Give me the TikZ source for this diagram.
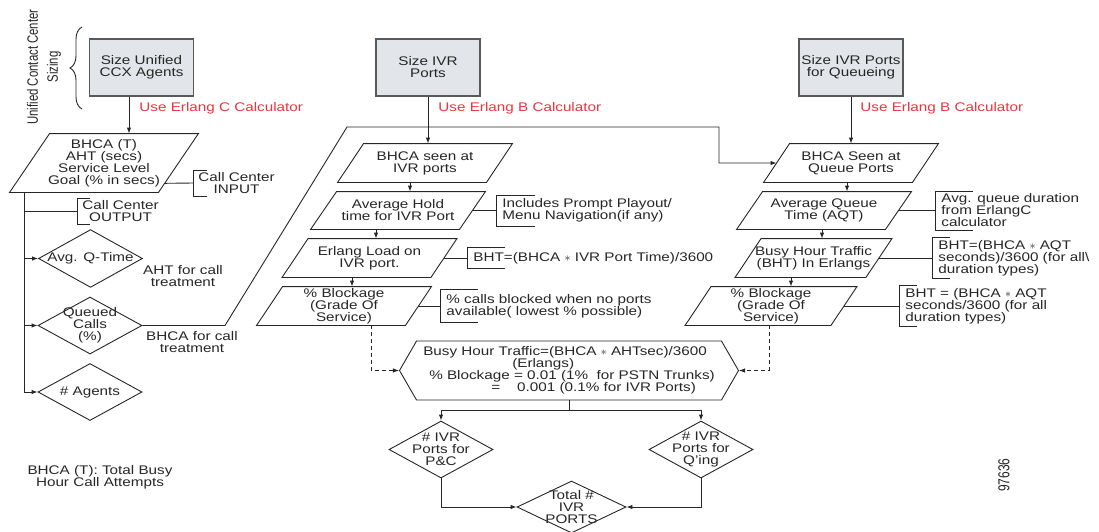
\documentclass[tikz,border=0pt]{standalone}
\usepackage{fontspec}
\setmainfont[FakeStretch=1.22]{Liberation Sans}
\newfontfamily\upfont{Liberation Sans}
\usetikzlibrary{shapes.geometric,shapes.symbols,arrows.meta,positioning,calc,decorations.pathreplacing}
\definecolor{boxgray}{RGB}{226,229,233}
\definecolor{erlred}{RGB}{236,52,60}

\begin{document}
\begin{tikzpicture}[%
	x=1pt, y=-1pt,              % one unit per pixel, y grows downwards
	every node/.style={font=\fontsize{12.5}{12}\selectfont},
	>={Latex[length=6pt,width=4.5pt]},
	line width=0.9pt,
	color=black!85,
	]
	% -------------------------------------------------
	% Box styles
	\tikzset{
		sizebox/.style={draw=black!65, fill=boxgray, line width=1.3pt, minimum width=104pt, minimum height=57pt, inner sep=1pt, align=center},
		para/.style={minimum width=148pt, minimum height=38pt, inner sep=0pt, align=center},
		dec/.style={diamond, draw, minimum width=104pt, minimum height=57pt, inner sep=-10pt, align=center},
		note/.style={anchor=west, inner xsep=6pt, inner ysep=2pt, align=left},
		erl/.style={anchor=west, text=erlred, inner sep=0pt},
		hex/.style={signal, signal to=east and west, signal pointer angle=120, draw, minimum width=339pt, minimum height=59pt, inner sep=1pt, align=left},
		upright/.style={rotate=90, yscale=1.32, align=center},
		dashline/.style={dashed, dash pattern=on 4pt off 3pt},
	}
	\useasboundingbox (0,0) rectangle (1099,531);

	% sizing label
	\node[upright, font=\upfont\fontsize{11.4}{15}\selectfont] (sizing) at (44,67) {Unified Contact Center\\Sizing};
	\draw[decorate, decoration={brace, amplitude=12pt}] (82,109) -- (82,27);

	% start boxes
	\node[sizebox] (sccx) at (141.5,67.5) {Size Unified\\CCX Agents};
	\node[sizebox] (sivr) at (428,67.5) {Size IVR\\Ports};
	\node[sizebox] (sque) at (851,67.5) {Size IVR Ports\\for Queueing};

	\node[erl] (erlc) at (139,108) {Use Erlang C Calculator};
	\node[erl] (erlb) at (438,108) {Use Erlang B Calculator};
	\node[erl] (erlq) at (860,108) {Use Erlang B Calculator};

	% left column
	\node[para, minimum height=58pt] (inp) at (104,163) {BHCA (T)\\AHT (secs)\\Service Level\\Goal (\% in secs)};
	\node[note, align=center, inner xsep=5pt] (ninp) at (193,183) {Call Center\\INPUT};
	\node[note, align=center, inner xsep=5pt] (nout) at (77,211) {Call Center\\OUTPUT};
	\node[dec] (qtime) at (90.5,258.5) {Avg. Q-Time};
	\node[dec] (queued) at (90,325.5) {Queued\\Calls\\(\%)};
	\node[dec] (agents) at (90,392) {\# Agents};
	\node[align=center] (ahtc) at (183,276) {AHT for call\\treatment};
	\node[align=center] (bhcac) at (192,342) {BHCA for call\\treatment};
	\node[align=center] (legend) at (100,477) {BHCA (T): Total Busy\\Hour Call Attempts};

	% IVR port column
	\node[para] (hbhca) at (425,163) {BHCA seen at\\IVR ports};
	\node[para, minimum height=37pt] (hhold) at (398,210.5) {Average Hold\\time for IVR Port};
	\node[para] (hload) at (369.5,258) {Erlang Load on\\IVR port.};
	\node[para] (hblock) at (344,306) {\% Blockage\\(Grade Of\\Service)};
	\node[note, minimum height=30pt] (nhold) at (496,210.5) {Includes Prompt Playout/\\Menu Navigation(if any)};
	\node[note, minimum height=20pt] (nload) at (467,258) {BHT=(BHCA $\ast$ IVR Port Time)/3600};
	\node[note, minimum height=32pt] (nblock) at (440,306) {\% calls blocked when no ports\\available( lowest \% possible)};

	% queueing column
	\node[para] (qbhca) at (851,163) {BHCA Seen at\\Queue Ports};
	\node[para, minimum height=37pt] (qaqt) at (824,210.5) {Average Queue\\Time (AQT)};
	\node[para, minimum width=130pt] (qbht) at (813.5,258) {Busy Hour Traffic\\(BHT) In Erlangs};
	\node[para, minimum width=145pt] (qblock) at (771,306) {\% Blockage\\(Grade Of\\Service)};
	\node[note, minimum height=38pt] (naqt) at (935,210.5) {Avg. queue duration\\from ErlangC\\calculator};
	\node[note, minimum height=38pt] (nbht) at (932,258) {BHT=(BHCA $\ast$ AQT\\seconds)/3600 (for all\textbackslash\\duration types)};
	\node[note, minimum height=39pt] (nqblock) at (899,306) {BHT = (BHCA $\ast$ AQT\\seconds/3600 (for all\\duration types)};

	% totals
	\node[hex] (bht) at (569,370.5) {Busy Hour Traffic=(BHCA $\ast$ AHTsec)/3600\\\hspace*{89pt}(Erlangs)\\\hspace*{6pt}\% Blockage = 0.01 (1\%~ for PSTN Trunks)\\\hspace*{68pt}=\ \ \ \ 0.001 (0.1\% for IVR Ports)};
	\node[dec] (pc) at (441,449.5) {\# IVR\\Ports for\\P\&C};
	\node[dec] (qing) at (701,449.5) {\# IVR\\Ports for\\Q'ing};
	\node[dec, minimum width=109pt, minimum height=52pt] (total) at (571.5,507) {Total \#\\IVR\\PORTS};
	\node[upright, font=\upfont\fontsize{12}{12}\selectfont] (fig) at (1004,475) {97636};

	% slanted outlines of the input/output boxes
	\foreach \n/\s in {inp/20, hbhca/13, hhold/13, hload/13, hblock/13, qbhca/13, qaqt/13, qbht/13, qblock/13}
		\draw ([xshift=\s]\n.north west) -- ([xshift=\s]\n.north east) -- ([xshift=-\s]\n.south east) -- ([xshift=-\s]\n.south west) -- cycle;

	% brackets of the side notes
	\foreach \n/\t in {ninp/14, nout/13, nhold/39, nload/38, nblock/38, naqt/38, nbht/18, nqblock/18}
		\draw ([xshift=\t]\n.north west) -- (\n.north west) -- (\n.south west) -- ([xshift=\t]\n.south west);

	% agent sizing
	\draw[->] ([xshift=-12.5pt]sccx.south) -- ([xshift=-12.5pt]sccx.south |- inp.north);
	\coordinate (spine) at ([xshift=-5pt]inp.south west);
	\draw[->] (spine) |- (agents.west);
	\draw[->] (spine |- qtime.west) -- (qtime.west);
	\draw[->] (spine |- queued.west) -- (queued.west);
	\draw (spine |- nout.west) -- (nout.west);
	\draw (ninp.west) -- ($([xshift=20pt]inp.north east)!.845!([xshift=-20pt]inp.south east)$);

	% BHCA for call treatment feeds both port columns
	\coordinate (knee1) at (225,325.5);
	\coordinate (knee2) at (347,127);
	\coordinate (knee3) at (719,127);
	\draw[->] (queued.east) -- (knee1) -- (knee2) -- (knee3) |- (qbhca.west);
	\draw[->] (sivr.south) -- (sivr.south |- hbhca.north);
	\draw[->] (sque.south) -- (sque.south |- qbhca.north);

	\foreach \a/\b/\d in {hbhca/hhold/-15, hhold/hload/-22, hload/hblock/-17.5, qbhca/qaqt/-4, qaqt/qbht/-2, qbht/qblock/-22.5}
		\draw[->] ([xshift=\d]\a.south) -- ([xshift=\d]\a.south |- \b.north);

	\foreach \a/\b in {hhold/nhold, hload/nload, hblock/nblock, qaqt/naqt, qbht/nbht, qblock/nqblock}
		\draw (\a.east) -- (\b.west);

	\draw[dashline, ->] ([xshift=27pt]hblock.south) |- (bht.west);
	\draw[dashline, ->] ([xshift=-2pt]qblock.south) |- (bht.east);

	% port counts
	\coordinate (split) at ($(bht.south)+(0,10)$);
	\draw (bht.south) -- (split);
	\draw[->] (split) -| (pc.north);
	\draw[->] (split) -| (qing.north);
	\draw[->] (pc.south) |- (total.west);
	\draw[->] (qing.south) |- (total.east);

\end{tikzpicture}
\end{document}
